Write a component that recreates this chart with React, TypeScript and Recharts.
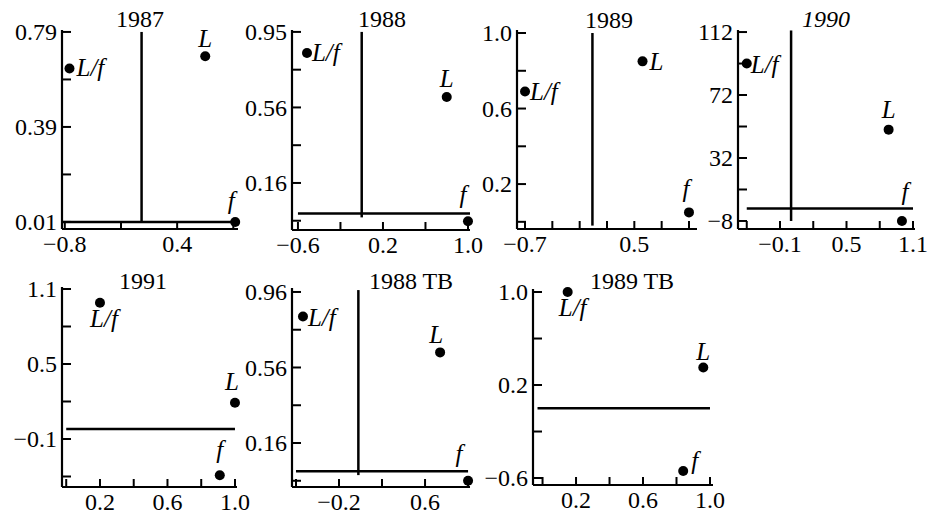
import { ScatterChart, Scatter, XAxis, YAxis, ReferenceLine } from "recharts";

const FONT = '"Liberation Serif", "DejaVu Serif", serif';

const TITLES = ["1987", "1988", "1989", "1990", "1991", "1988 TB", "1989 TB"];

// points per panel: L/f, L, f
const LF_X = [-0.75, -0.515, -0.7, -0.4, 0.2, -0.535, 0.15];
const LF_Y = [0.64, 0.84, 0.69, 92, 0.99, 0.83, 1.0];
const L_X = [0.7, 0.8, 0.59, 0.88, 1.0, 0.74, 0.96];
const L_Y = [0.69, 0.61, 0.85, 50, 0.19, 0.64, 0.35];
const F_X = [1.02, 1.0, 1.1, 1.0, 0.91, 1.0, 0.84];
const F_Y = [0.01, -0.04, 0.05, -8, -0.39, -0.04, -0.54];

const X_DOMAINS = [
  [-0.83, 1.05],
  [-0.656, 1.019],
  [-0.788, 1.188],
  [-0.479, 1.118],
  [-0.025, 1.012],
  [-0.637, 1.018],
  [-0.057, 1.018],
];
const Y_DOMAINS = [
  [-0.019, 0.798],
  [-0.086, 0.96],
  [-0.038, 1.016],
  [-13.1, 113.3],
  [-0.484, 1.116],
  [-0.073, 0.981],
  [-0.66, 1.026],
];

const X_TICKS = [
  [-0.8, -0.2, 0.4, 1.0],
  [-0.6, -0.2, 0.2, 0.6, 1.0],
  [-0.7, -0.4, -0.1, 0.2, 0.5, 0.8, 1.1],
  [-0.4, -0.1, 0.2, 0.5, 0.8, 1.1],
  [0, 0.2, 0.4, 0.6, 0.8, 1.0],
  [-0.6, -0.2, 0.2, 0.6, 1.0],
  [0, 0.2, 0.4, 0.6, 0.8, 1.0],
];
const X_TICK_LABELS = [
  ["−0.8", "", "0.4", ""],
  ["−0.6", "", "0.2", "", "1.0"],
  ["−0.7", "", "", "", "0.5", "", ""],
  ["", "−0.1", "", "0.5", "", "1.1"],
  ["", "0.2", "", "0.6", "", "1.0"],
  ["", "−0.2", "", "0.6", ""],
  ["", "0.2", "", "0.6", "", "1.0"],
];
const Y_TICKS = [
  [0.01, 0.205, 0.4, 0.595, 0.79],
  [-0.0375, 0.16, 0.3575, 0.555, 0.7525, 0.95],
  [0, 0.2, 0.4, 0.6, 0.8, 1.0],
  [-8, 12, 32, 52, 72, 92, 112],
  [-0.4, -0.1, 0.2, 0.5, 0.8, 1.1],
  [-0.04, 0.16, 0.36, 0.56, 0.76, 0.96],
  [-0.6, -0.2, 0.2, 0.6, 1.0],
];
const Y_TICK_LABELS = [
  ["0.01", "", "0.39", "", "0.79"],
  ["", "0.16", "", "0.56", "", "0.95"],
  ["", "0.2", "", "0.6", "", "1.0"],
  ["−8", "", "32", "", "72", "", "112"],
  ["", "−0.1", "", "0.5", "", "1.1"],
  ["", "0.16", "", "0.56", "", "0.96"],
  ["−0.6", "", "0.2", "", "1.0"],
];

// zero lines: [y, xFrom, xTo] and [x, yFrom, yTo]
const H_LINES: (number[] | null)[] = [
  [0.01, -0.82, 1.02],
  [0, -0.6, 1.019],
  null,
  [0, -0.4, 1.1],
  [-0.02, 0.0, 1.0],
  [0.01, -0.6, 1.0],
  [0, -0.03, 1.0],
];
const V_LINES: (number[] | null)[] = [
  [0.02, 0.01, 0.79],
  [0, -0.02, 0.95],
  [0.04, -0.02, 1.0],
  [0, -8, 113],
  null,
  [-0.02, -0.01, 0.97],
  null,
];

// layout: plot rectangles (left, top, right, bottom) and title centres
const PLOTS = [
  [62, 30, 238, 229],
  [292, 30, 470, 230],
  [517, 30, 697, 229],
  [738, 30, 915, 229],
  [62, 287, 237, 487],
  [292, 288, 470, 487],
  [533, 289, 713, 485],
];
const TITLE_POS = [
  [140, 19],
  [382, 19],
  [609, 20],
  [826, 19],
  [143, 281],
  [411, 281],
  [632, 281],
];
type Off = [number, number, "start" | "middle" | "end"];
const LABEL_OFFSETS: Off[][] = [
  [[7, 8, "start"], [0, -9, "middle"], [-4, -13, "middle"]],
  [[5, 8, "start"], [0, -10, "middle"], [-5, -18, "middle"]],
  [[5, 8, "start"], [7, 9, "start"], [-3, -15, "middle"]],
  [[4, 9, "start"], [0, -12, "middle"], [3, -21, "middle"]],
  [[4, 24, "middle"], [-3, -13, "middle"], [0, -17, "middle"]],
  [[5, 9, "start"], [-4, -9, "middle"], [-9, -19, "middle"]],
  [[5, 24, "middle"], [0, -8, "middle"], [8, -2, "start"]],
];

const ML = 60;
const MT = 30;
const MR = 20;
const MB = 30;

const makeDot = (text: string, off: Off) => (props: any) => {
  const { cx, cy } = props;
  return (
    <g>
      <circle cx={cx} cy={cy} r={5} fill="#000" />
      <text
        x={cx + off[0]}
        y={cy + off[1]}
        textAnchor={off[2]}
        fontStyle="italic"
        fontSize={25}
        fontFamily={FONT}
        fill="#000"
      >
        {text}
      </text>
    </g>
  );
};

const yTick = (ticks: number[], labels: string[]) => (props: any) => {
  const { x, y, payload } = props;
  const i = ticks.indexOf(payload.value);
  return (
    <g>
      <line x1={x} y1={y} x2={x + 9} y2={y} stroke="#000" strokeWidth={2} />
      <text x={x - 5} y={y} dy="0.35em" textAnchor="end" fontSize={24} fontFamily={FONT} fill="#000">
        {i >= 0 ? labels[i] : ""}
      </text>
    </g>
  );
};

const xTick = (ticks: number[], labels: string[]) => (props: any) => {
  const { x, y, payload } = props;
  const i = ticks.indexOf(payload.value);
  return (
    <g>
      <line x1={x} y1={y} x2={x} y2={y - 8} stroke="#000" strokeWidth={2} />
      <text x={x} y={y + 23} textAnchor="middle" fontSize={24} fontFamily={FONT} fill="#000">
        {i >= 0 ? labels[i] : ""}
      </text>
    </g>
  );
};

function Panel({ i }: { i: number }) {
  const [l, t, r, b] = PLOTS[i];
  const w = r - l + ML + MR;
  const h = b - t + MT + MB;
  const off = LABEL_OFFSETS[i];
  const hl = H_LINES[i];
  const vl = V_LINES[i];
  return (
    <div style={{ position: "absolute", left: l - ML, top: t - MT }}>
      <ScatterChart width={w} height={h} margin={{ top: MT, right: MR, bottom: 0, left: 0 }}>
        <XAxis
          type="number"
          dataKey="x"
          domain={X_DOMAINS[i]}
          ticks={X_TICKS[i]}
          interval={0}
          height={MB}
          tickSize={0}
          tickMargin={0}
          tickLine={false}
          axisLine={{ stroke: "#000", strokeWidth: 2.2 }}
          tick={xTick(X_TICKS[i], X_TICK_LABELS[i])}
        />
        <YAxis
          type="number"
          dataKey="y"
          domain={Y_DOMAINS[i]}
          ticks={Y_TICKS[i]}
          interval={0}
          width={ML}
          tickSize={0}
          tickMargin={0}
          tickLine={false}
          axisLine={{ stroke: "#000", strokeWidth: 2.2 }}
          tick={yTick(Y_TICKS[i], Y_TICK_LABELS[i])}
        />
        {hl && (
          <ReferenceLine
            segment={[
              { x: hl[1], y: hl[0] },
              { x: hl[2], y: hl[0] },
            ]}
            stroke="#000"
            strokeWidth={2.5}
            ifOverflow="visible"
          />
        )}
        {vl && (
          <ReferenceLine
            segment={[
              { x: vl[0], y: vl[1] },
              { x: vl[0], y: vl[2] },
            ]}
            stroke="#000"
            strokeWidth={2.5}
            ifOverflow="visible"
          />
        )}
        <Scatter data={[{ x: LF_X[i], y: LF_Y[i] }]} shape={makeDot("L/f", off[0])} isAnimationActive={false} />
        <Scatter data={[{ x: L_X[i], y: L_Y[i] }]} shape={makeDot("L", off[1])} isAnimationActive={false} />
        <Scatter data={[{ x: F_X[i], y: F_Y[i] }]} shape={makeDot("f", off[2])} isAnimationActive={false} />
      </ScatterChart>
    </div>
  );
}

export default function App() {
  return (
    <div
      style={{
        position: "absolute",
        left: 0,
        top: 0,
        width: 930,
        height: 514,
        background: "#fff",
        fontFamily: FONT,
        overflow: "hidden",
      }}
    >
      {TITLES.map((title, i) => (
        <Panel key={title} i={i} />
      ))}
      {TITLES.map((title, i) => (
        <div
          key={"t" + title}
          style={{
            position: "absolute",
            left: TITLE_POS[i][0],
            top: TITLE_POS[i][1],
            transform: "translate(-50%, -50%)",
            fontSize: 24,
            lineHeight: 1,
            whiteSpace: "nowrap",
            fontStyle: i === 3 ? "italic" : "normal",
            color: "#000",
          }}
        >
          {title}
        </div>
      ))}
    </div>
  );
}
